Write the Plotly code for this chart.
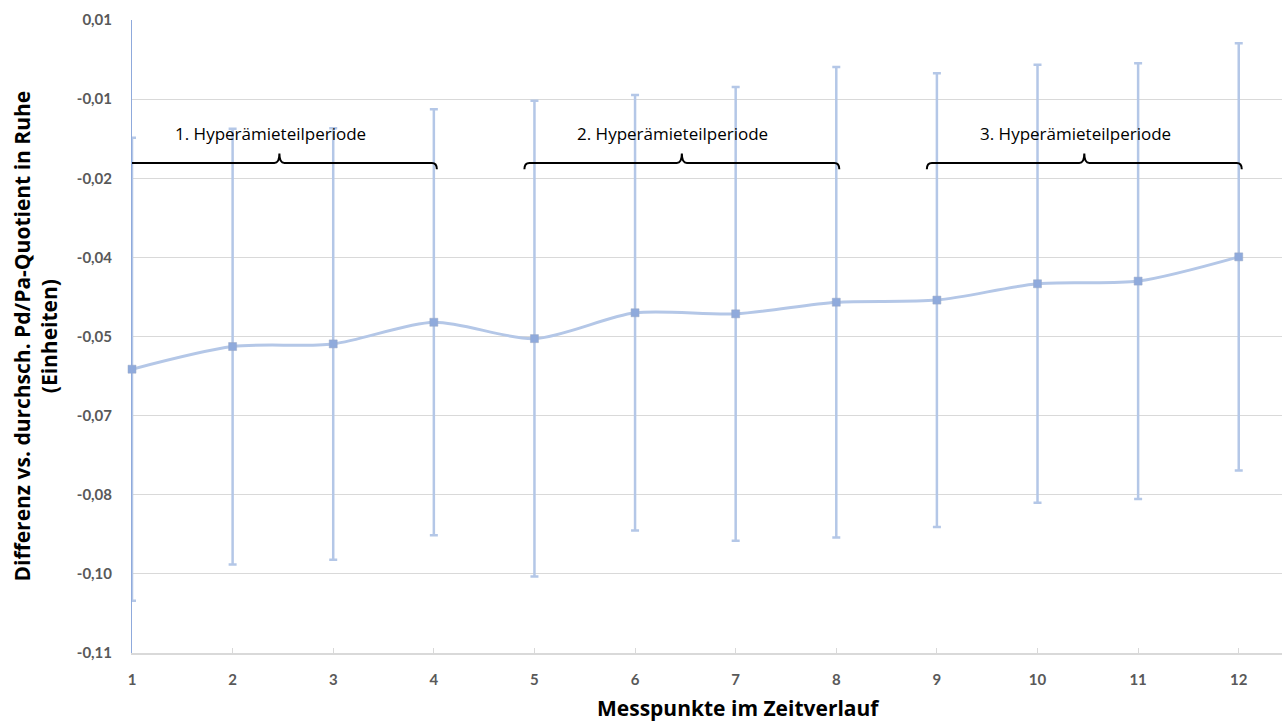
import plotly.graph_objects as go

# ---- data ----
messpunkte = list(range(1, 13))
mittelwert = [-0.0562, -0.0519, -0.0514, -0.0473, -0.0504, -0.0455,
              -0.0457, -0.0435, -0.0431, -0.0400, -0.0395, -0.0349]
fehler = [0.0439, 0.0413, 0.0409, 0.0404, 0.0451, 0.0413,
          0.0430, 0.0446, 0.0430, 0.0415, 0.0413, 0.0405]

y_tickvals = [-0.11, -0.095, -0.08, -0.065, -0.05, -0.035, -0.02, -0.005, 0.01]
y_ticktext = ["-0,11", "-0,10", "-0,08", "-0,07", "-0,05", "-0,04", "-0,02", "-0,01", "0,01"]

perioden = [("1. Hyperämieteilperiode", 1, 4),
            ("2. Hyperämieteilperiode", 5, 8),
            ("3. Hyperämieteilperiode", 9, 12)]

y_title = "Differenz vs. durchsch. Pd/Pa-Quotient in Ruhe<br>(Einheiten)"
x_title = "Messpunkte im Zeitverlauf"

FONT = "Lato"
TFONT = "Open Sans"
LINE_C = "#b4c7e7"
MARK_C = "#8faadc"

fig = go.Figure()
fig.add_trace(go.Scatter(
    x=messpunkte, y=mittelwert, mode="lines+markers",
    line=dict(color=LINE_C, width=3, shape="spline", smoothing=0.8),
    marker=dict(symbol="square", size=8, color=MARK_C,
                line=dict(color="#9aa9c4", width=0.5)),
    error_y=dict(type="data", array=fehler, visible=True,
                 color=LINE_C, thickness=2.5, width=4),
    cliponaxis=False,
    showlegend=False, hoverinfo="skip",
))

# brackets for the periods
br_y = -0.0171
br_down = -0.0183
br_up = -0.0153
dx = 0.05
shapes = []
annotations = []
for label, a, b in perioden:
    x0 = a - 0.1
    x1 = b + 0.03
    xm = (x0 + x1) / 2
    path = (f"M {x0},{br_down} Q {x0},{br_y} {x0+dx},{br_y} "
            f"L {xm-dx},{br_y} Q {xm},{br_y} {xm},{br_up} "
            f"Q {xm},{br_y} {xm+dx},{br_y} "
            f"L {x1-dx},{br_y} Q {x1},{br_y} {x1},{br_down}")
    shapes.append(dict(type="path", path=path, xref="x", yref="y",
                       line=dict(color="black", width=2)))
    annotations.append(dict(x=xm - 0.09, y=-0.0115, xref="x", yref="y",
                            text=label, showarrow=False,
                            font=dict(family=TFONT, size=17, color="black"),
                            xanchor="center", yanchor="middle"))

annotations.append(dict(x=0, y=0.5, xref="paper", yref="paper",
                        xshift=-97, text=y_title, showarrow=False,
                        textangle=-90, xanchor="center", yanchor="middle",
                        font=dict(family=TFONT, size=21, color="black",
                                  weight="bold")))
annotations.append(dict(x=0.527, y=-0.087, xref="paper", yref="paper",
                        text=x_title, showarrow=False,
                        xanchor="center", yanchor="middle",
                        font=dict(family=TFONT, size=21, color="black",
                                  weight="bold")))

fig.update_layout(
    width=1288, height=723,
    margin=dict(l=132, r=6, t=20, b=70),
    paper_bgcolor="white", plot_bgcolor="white",
    shapes=shapes, annotations=annotations,
    xaxis=dict(range=[1, 12.43], tickvals=messpunkte,
               ticktext=[str(v) for v in messpunkte],
               showgrid=False, zeroline=False,
               showline=True, linecolor="#d9d9d9", linewidth=1.5,
               ticks="inside", ticklen=5, tickcolor="#d9d9d9", tickwidth=1,
               ticklabelstandoff=12,
               tickfont=dict(family=FONT, size=15, color="#595959",
                             weight="bold")),
    yaxis=dict(range=[-0.11, 0.01], tickvals=y_tickvals, ticktext=y_ticktext,
               showgrid=True, gridcolor="#d9d9d9", gridwidth=1,
               zeroline=False, showline=True, linecolor=MARK_C, linewidth=1,
               ticks="", ticklabelstandoff=16,
               tickfont=dict(family=FONT, size=15, color="#595959",
                             weight="bold")),
)

fig.write_html("out.html")
